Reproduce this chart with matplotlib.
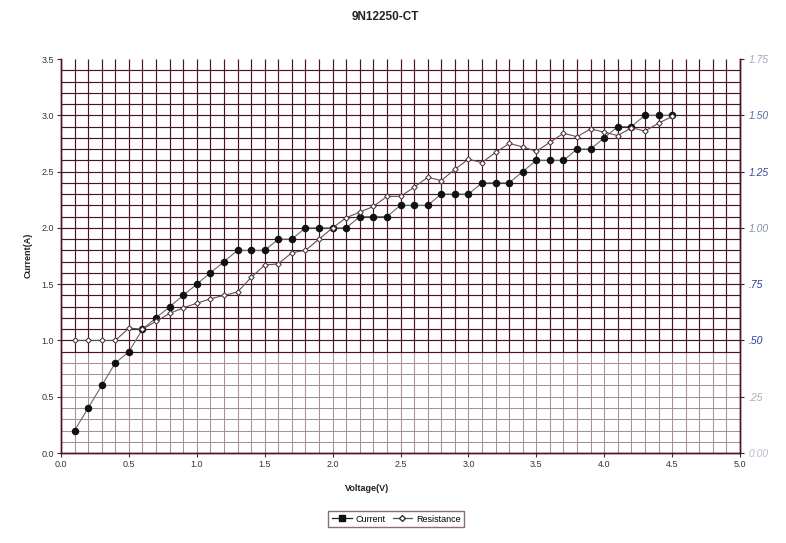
import numpy as np
import matplotlib
matplotlib.use("Agg")
import matplotlib.pyplot as plt
from matplotlib.lines import Line2D

plt.rcParams['font.family'] = ['Liberation Sans', 'DejaVu Sans']

# voltage steps (V)
voltage = [0.1, 0.2, 0.3, 0.4, 0.5, 0.6, 0.7, 0.8, 0.9, 1.0,
           1.1, 1.2, 1.3, 1.4, 1.5, 1.6, 1.7, 1.8, 1.9, 2.0,
           2.1, 2.2, 2.3, 2.4, 2.5, 2.6, 2.7, 2.8, 2.9, 3.0,
           3.1, 3.2, 3.3, 3.4, 3.5, 3.6, 3.7, 3.8, 3.9, 4.0,
           4.1, 4.2, 4.3, 4.4, 4.5]
# current (A), left axis
current = [0.2, 0.4, 0.6, 0.8, 0.9, 1.1, 1.2, 1.3, 1.4, 1.5,
           1.6, 1.7, 1.8, 1.8, 1.8, 1.9, 1.9, 2.0, 2.0, 2.0,
           2.0, 2.1, 2.1, 2.1, 2.2, 2.2, 2.2, 2.3, 2.3, 2.3,
           2.4, 2.4, 2.4, 2.5, 2.6, 2.6, 2.6, 2.7, 2.7, 2.8,
           2.9, 2.9, 3.0, 3.0, 3.0]
# resistance, right axis
resistance = [0.500, 0.500, 0.500, 0.500, 0.555, 0.550, 0.585, 0.620, 0.645, 0.665,
              0.685, 0.700, 0.715, 0.780, 0.835, 0.840, 0.890, 0.900, 0.950, 1.000,
              1.045, 1.070, 1.095, 1.140, 1.140, 1.180, 1.225, 1.210, 1.260, 1.305,
              1.290, 1.335, 1.375, 1.360, 1.340, 1.380, 1.420, 1.405, 1.440, 1.425,
              1.410, 1.445, 1.430, 1.465, 1.495]

right_labels = ['0.00', '.25', '.50', '.75', '1.00', '1.25', '1.50', '1.75']
right_colors = ['#b8bccc', '#a8acc0', '#2a3a9a', '#2a3a9a', '#8890b0', '#3a4aa0', '#5a6aa8', '#a0a8c0']

GRID_DARK = '#4a1428'
GRID_LIGHT = '#a89098'


def make_chart():
    fig = plt.figure(figsize=(7.86, 5.43), dpi=100)
    ax = fig.add_axes([0.0776, 0.1657, 0.8639, 0.7256])
    ax.set_xlim(0, 5)
    ax.set_ylim(0, 3.5)

    # grid: darker in the upper part, faded below 0.9 like the scan
    xs = np.arange(1, 51) / 10.0
    ys = np.arange(1, 35) / 10.0
    ax.vlines(xs, 0.9, 3.5, color=GRID_DARK, lw=0.85, zorder=1)
    ax.vlines(xs, 0, 0.9, color=GRID_LIGHT, lw=0.75, zorder=1)
    for y in ys:
        c = GRID_DARK if y >= 0.9 else GRID_LIGHT
        ax.axhline(y, color=c, lw=0.85 if y >= 0.9 else 0.75, zorder=1)

    ax.plot(voltage, current, color='#6a6a6a', lw=0.8, marker='o', ms=4.4,
            mfc='#111111', mec='#111111', zorder=3)

    ax2 = ax.twinx()
    ax2.set_ylim(0, 1.75)
    ax2.plot(voltage, resistance, color='#6a4a55', lw=0.8, marker='D', ms=2.8,
             mfc='white', mec='#3a2a30', mew=0.7, zorder=3)

    for a in (ax, ax2):
        a.spines['top'].set_visible(False)
        for s in a.spines.values():
            s.set_color(GRID_DARK)
            s.set_linewidth(1.0)

    ax.set_xticks(np.arange(0, 5.01, 0.5))
    ax.set_xticklabels(['%.1f' % v for v in np.arange(0, 5.01, 0.5)])
    ax.set_yticks(np.arange(0, 3.51, 0.5))
    ax.set_yticklabels(['%.1f' % v for v in np.arange(0, 3.51, 0.5)])
    ax.tick_params(axis='both', labelsize=6.5, colors='#333333', length=3, pad=2)

    ax2.set_yticks(np.arange(0, 1.76, 0.25))
    ax2.set_yticklabels(right_labels, fontsize=7.5, style='italic')
    for lbl, c in zip(ax2.get_yticklabels(), right_colors):
        lbl.set_color(c)
    ax2.tick_params(axis='y', length=3, color=GRID_DARK, pad=3)

    fig.text(0.49, 0.968, '9N12250-CT', ha='center', va='center',
             fontsize=8.5, fontweight='bold', color='#222222')
    fig.text(0.467, 0.101, 'Voltage(V)', ha='center', va='center',
             fontsize=6.5, fontweight='bold', color='#222222')
    fig.text(0.036, 0.53, 'Current(A)', ha='center', va='center', rotation=90,
             fontsize=6.5, fontweight='bold', color='#222222')

    handles = [Line2D([], [], color='#222222', lw=0.9, marker='s', ms=4,
                      mfc='#111111', mec='#111111'),
               Line2D([], [], color='#555555', lw=0.9, marker='D', ms=3,
                      mfc='white', mec='#333333')]
    fig.legend(handles, ['Current', 'Resistance'], loc='center',
               bbox_to_anchor=(0.504, 0.044), ncol=2, fontsize=6.5,
               frameon=True, fancybox=False, edgecolor='#6a4a55',
               handlelength=2.2, columnspacing=0.8, handletextpad=0.4,
               borderpad=0.4)
    return fig


def main():
    fig = make_chart()
    fig.savefig('out.png', dpi=100)

if __name__ == "__main__":
    main()
